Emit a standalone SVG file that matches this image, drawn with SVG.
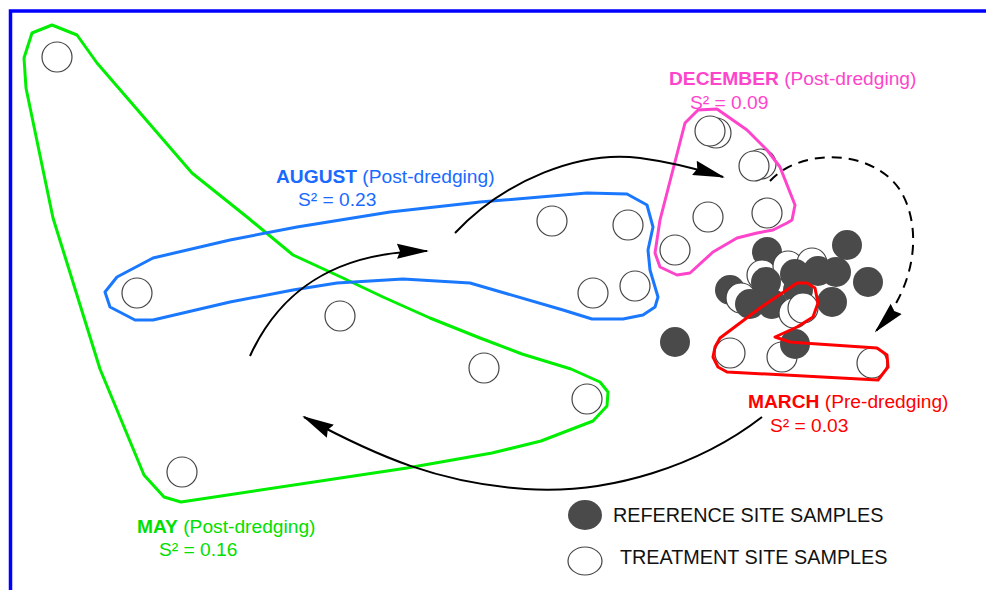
<svg xmlns="http://www.w3.org/2000/svg" width="986" height="590" viewBox="0 0 986 590">
<style>
.t{fill:#fff;stroke:#444;stroke-width:1.2}
.r{fill:#4a4a4a}
.hull{fill:none;stroke-width:3;stroke-linejoin:round}
.lab{font-family:"Liberation Sans",Arial,sans-serif;font-size:19.2px}
.b{font-weight:bold}
.conn{fill:none;stroke:#000;stroke-width:2}
.leg{font-family:"Liberation Sans",Arial,sans-serif;font-size:19.8px;fill:#111}
</style>
<defs>
<marker id="ah" markerUnits="userSpaceOnUse" markerWidth="32" markerHeight="16" viewBox="0 0 32 16" refX="30" refY="8" orient="auto">
<path d="M0,0.5 L32,8 L0,15.5 L3,8 z" fill="#000"/>
</marker>
</defs>
<rect width="986" height="590" fill="#fff"/>
<g id="border" fill="none" stroke="#0000ff" stroke-width="3.5">
<path d="M10.5,590 V11 H986"/>
</g>
<g id="treatment-samples">
<circle class="t" cx="57" cy="57" r="15"/>
<circle class="t" cx="137" cy="293" r="15"/>
<circle class="t" cx="340" cy="316" r="15"/>
<circle class="t" cx="484" cy="368" r="15"/>
<circle class="t" cx="587" cy="399" r="15"/>
<circle class="t" cx="182" cy="472" r="15"/>
<circle class="t" cx="552" cy="221" r="15"/>
<circle class="t" cx="628" cy="225" r="15"/>
<circle class="t" cx="593" cy="293" r="15"/>
<circle class="t" cx="635" cy="286" r="15"/>
<circle class="t" cx="716" cy="133" r="15"/>
<circle class="t" cx="710" cy="131" r="15"/>
<circle class="t" cx="761" cy="164" r="15"/>
<circle class="t" cx="754" cy="166" r="15"/>
<circle class="t" cx="708" cy="217" r="15"/>
<circle class="t" cx="767" cy="213" r="15"/>
<circle class="t" cx="675" cy="250" r="15"/>
<circle class="t" cx="730" cy="353" r="15"/>
<circle class="t" cx="782" cy="357" r="15"/>
<circle class="t" cx="872" cy="363" r="15"/>
</g>
<g id="cluster">
<circle class="r" cx="767" cy="252" r="15"/>
<circle class="r" cx="847" cy="245" r="15"/>
<circle class="r" cx="868" cy="282" r="15"/>
<circle class="r" cx="730" cy="290" r="15"/>
<circle class="t" cx="762" cy="275" r="15"/>
<circle class="t" cx="788" cy="266" r="15"/>
<circle class="t" cx="812" cy="263" r="15"/>
<circle class="t" cx="741" cy="298" r="15"/>
<circle class="r" cx="766" cy="282" r="15"/>
<circle class="r" cx="795" cy="274" r="15"/>
<circle class="r" cx="818" cy="271" r="15"/>
<circle class="r" cx="836" cy="272" r="15"/>
<circle class="r" cx="832" cy="302" r="15"/>
<circle class="r" cx="750" cy="304" r="15"/>
<circle class="r" cx="772" cy="304" r="15"/>
<circle class="r" cx="798" cy="290" r="15"/>
<circle class="t" cx="794" cy="313" r="15"/>
<circle class="t" cx="803" cy="308" r="15"/>
<circle class="r" cx="675" cy="342" r="15"/>
<circle class="r" cx="795" cy="344" r="15"/>
</g>
<g id="may">
<polygon class="hull" stroke="#00ee00" points="32,33 52,25 77,35 97,63 192,173 247,217 293,255 343,278 383,297 430,318 480,338 522,354 571,369 600,382 608,392 607,406 593,421 541,441 492,453 407,468 181,502 164,497 144,475 100,369 53,218 26,88 24,58"/>
<text class="lab" x="137" y="533" fill="#00e000"><tspan class="b">MAY</tspan> (Post-dredging)</text>
<text class="lab" x="159" y="556" fill="#00e000">S² = 0.16</text>
</g>
<g id="august">
<polygon class="hull" stroke="#1a78ff" points="105,292 117,277 153,258 230,240 297,227 390,212 480,202 587,193 627,194 647,205 653,227 648,250 650,270 658,297 655,307 643,315 623,319 592,319 563,310 470,283 403,279 337,283 293,290 230,302 153,320 135,320 110,307"/>
<text class="lab" x="276" y="183" fill="#1a6aff"><tspan class="b">AUGUST</tspan> (Post-dredging)</text>
<text class="lab" x="298" y="206" fill="#1a6aff">S² = 0.23</text>
</g>
<g id="december">
<polygon class="hull" stroke="#ff44cc" points="698,110 717,109 747,130 767,150 780,167 795,205 792,220 787,223 773,230 757,233 737,238 713,252 690,273 677,275 660,267 655,253 660,220 685,123"/>
<text class="lab" x="669" y="85" fill="#ff44cc"><tspan class="b">DECEMBER</tspan> (Post-dredging)</text>
<text class="lab" x="690" y="109" fill="#ff44cc">S² = 0.09</text>
</g>
<g id="march">
<polygon class="hull" stroke="#ff0000" points="720,338 760,308 797,283 807,283 815,288 818,303 813,317 797,327 775,337 790,342 803,343 877,348 887,355 888,367 878,380 727,372 718,367 713,357 715,347"/>
<text class="lab" x="748" y="408" fill="#ff0000"><tspan class="b">MARCH</tspan> (Pre-dredging)</text>
<text class="lab" x="770" y="432" fill="#ff0000">S² = 0.03</text>
</g>
<g id="connectors">
<path class="conn" marker-end="url(#ah)" d="M250,356 C278,295 330,252 427,251"/>
<path class="conn" marker-end="url(#ah)" d="M455,233 C505,180 580,150 640,158 C670,162 695,168 723,177"/>
<path class="conn" marker-end="url(#ah)" stroke-dasharray="10 7" d="M770,181 C800,148 872,148 900,190 C922,225 918,285 876,331"/>
<path class="conn" marker-end="url(#ah)" d="M762,417 C700,465 610,495 525,489 C440,483 380,458 304,417"/>
</g>
<g id="legend">
<ellipse cx="585" cy="515" rx="17" ry="15" fill="#4a4a4a"/>
<text class="leg" x="613" y="522">REFERENCE SITE SAMPLES</text>
<ellipse cx="585" cy="561" rx="17" ry="14" fill="#fff" stroke="#444" stroke-width="1.2"/>
<text class="leg" x="620" y="564">TREATMENT SITE SAMPLES</text>
</g>
</svg>
